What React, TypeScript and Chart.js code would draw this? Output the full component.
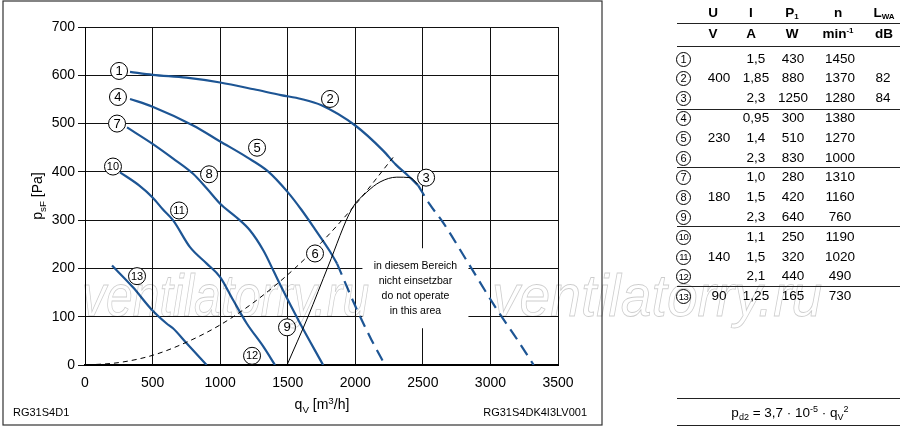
import React, { useEffect, useRef } from "react";
import { Chart, registerables } from "chart.js";
Chart.register(...registerables);

const FONT = "'Liberation Sans', Arial, Helvetica, sans-serif";
const BLUE = "#1d5594";

// ---- curve data (q_V in m³/h, p_sF in Pa) ----
const c123X = [333, 500, 750, 1000, 1250, 1450, 1600, 1750, 2000, 2206, 2300, 2391, 2465];
const c123Y = [607, 601, 595, 585, 571, 559, 551, 538, 496, 444, 415, 392, 372];
const c3dX = [2465, 2550, 2650, 2827, 3050, 3200, 3320];
const c3dY = [372, 333, 295, 215, 114, 52, 0];

const c456X = [333, 500, 800, 1000, 1200, 1350, 1500, 1600, 1700, 1813, 1865];
const c456Y = [551, 535, 496, 463, 430, 402, 358, 322, 282, 235, 210];
const c6dX = [1865, 2013, 2120, 2220];
const c6dY = [210, 114, 52, 0];

const c789X = [311, 500, 650, 800, 900, 1000, 1120, 1220, 1320, 1400, 1450, 1590, 1762];
const c789Y = [492, 458, 428, 396, 366, 334, 306, 279, 237, 192, 163, 87, 0];

const c101112X = [259, 400, 500, 577, 651, 777, 901, 1000, 1097, 1197, 1320, 1406];
const c101112Y = [399, 372, 347, 322, 300, 244, 210, 182, 134, 86, 38, 0];

const c13X = [200, 355, 496, 604, 651, 752, 900];
const c13Y = [206, 161, 114, 86, 76, 45, 0];

const sysX = [15, 250, 500, 750, 1000, 1250, 1500, 1750, 2000, 2280];
const sysY = [0, 5, 20, 47, 83, 130, 187, 254, 332, 430];

const limX = [1495, 1650, 1800, 1974, 2085, 2183, 2307, 2406, 2460];
const limY = [0, 100, 205, 323, 358, 379, 389, 388, 375];

// curve number markers (anchor values)
const markerIds = ["1", "2", "3", "4", "5", "6", "7", "8", "9", "10", "11", "12", "13"];
const markerQ = [252, 1813, 2524, 244, 1273, 1702, 237, 918, 1495, 207, 696, 1236, 385];
const markerP = [609, 551, 388, 555, 450, 231, 500, 395, 78, 411, 320, 19, 184];

const noOpLines = ["in diesem Bereich", "nicht einsetzbar", "do not operate", "in this area"];
const noOpCenter = [2445, 159];

// ---- table data ----
const rowIds = ["1", "2", "3", "4", "5", "6", "7", "8", "9", "10", "11", "12", "13"];
const colU = ["", "400", "", "", "230", "", "", "180", "", "", "140", "", "90"];
const colI = ["1,5", "1,85", "2,3", "0,95", "1,4", "2,3", "1,0", "1,5", "2,3", "1,1", "1,5", "2,1", "1,25"];
const colP = ["430", "880", "1250", "300", "510", "830", "280", "420", "640", "250", "320", "440", "165"];
const colN = ["1450", "1370", "1280", "1380", "1270", "1000", "1310", "1160", "760", "1190", "1020", "490", "730"];
const colL = ["", "82", "84", "", "", "", "", "", "", "", "", "", ""];

const zip = (xs: number[], ys: number[]) => xs.map((x, i) => ({ x, y: ys[i] }));

function circle(ctx: CanvasRenderingContext2D, px: number, py: number, txt: string, r: number) {
  ctx.beginPath();
  ctx.arc(px, py, r, 0, Math.PI * 2);
  ctx.fillStyle = "#fff";
  ctx.fill();
  ctx.lineWidth = 1;
  ctx.strokeStyle = "#000";
  ctx.stroke();
  ctx.fillStyle = "#000";
  ctx.font = (txt.length > 1 ? "11px " : "13px ") + FONT;
  ctx.textAlign = "center";
  ctx.textBaseline = "middle";
  ctx.fillText(txt, px, py + 0.5);
}

function drawSubText(
  ctx: CanvasRenderingContext2D,
  parts: { t: string; k: "n" | "sub" | "sup" }[],
  size: number
) {
  let w = 0;
  const widths = parts.map((p) => {
    ctx.font = (p.k === "n" ? size : size * 0.7) + "px " + FONT;
    return ctx.measureText(p.t).width;
  });
  widths.forEach((x) => (w += x));
  let cx = -w / 2;
  parts.forEach((p, i) => {
    ctx.font = (p.k === "n" ? size : size * 0.7) + "px " + FONT;
    const dy = p.k === "sub" ? size * 0.28 : p.k === "sup" ? -size * 0.38 : 0;
    ctx.fillText(p.t, cx, dy);
    cx += widths[i];
  });
  return w;
}

const overlay = {
  id: "overlay",
  beforeDatasetsDraw(chart: any) {
    const { ctx, scales } = chart;
    const cx = scales.x.getPixelForValue(noOpCenter[0]);
    const cy = scales.y.getPixelForValue(noOpCenter[1]);
    ctx.save();
    ctx.fillStyle = "#fff";
    ctx.fillRect(cx - 53, cy - 40, 106, 80);
    ctx.fillStyle = "#000";
    ctx.font = "10.5px " + FONT;
    ctx.textAlign = "center";
    ctx.textBaseline = "middle";
    noOpLines.forEach((l, i) => ctx.fillText(l, cx, cy - 22.5 + i * 15));
    ctx.restore();
  },
  afterDatasetsDraw(chart: any) {
    const { ctx, scales } = chart;
    ctx.save();
    markerIds.forEach((id, i) => {
      circle(ctx, scales.x.getPixelForValue(markerQ[i]), scales.y.getPixelForValue(markerP[i]), id, 8.5);
    });
    ctx.restore();
  },
  afterDraw(chart: any) {
    const { ctx } = chart;
    ctx.save();
    // frame
    ctx.strokeStyle = "#333";
    ctx.lineWidth = 1.2;
    ctx.strokeRect(3, 1, 599, 424);
    // axis titles
    ctx.fillStyle = "#000";
    ctx.textAlign = "left";
    ctx.textBaseline = "alphabetic";
    ctx.save();
    ctx.translate(322, 409);
    drawSubText(
      ctx,
      [
        { t: "q", k: "n" },
        { t: "V", k: "sub" },
        { t: " [m", k: "n" },
        { t: "3", k: "sup" },
        { t: "/h]", k: "n" },
      ],
      14
    );
    ctx.restore();
    ctx.save();
    ctx.translate(42, 196);
    ctx.rotate(-Math.PI / 2);
    drawSubText(
      ctx,
      [
        { t: "p", k: "n" },
        { t: "sF", k: "sub" },
        { t: " [Pa]", k: "n" },
      ],
      14
    );
    ctx.restore();
    // bottom codes
    ctx.font = "11px " + FONT;
    ctx.textBaseline = "middle";
    ctx.textAlign = "left";
    ctx.fillText("RG31S4D1", 13, 413);
    ctx.textAlign = "right";
    ctx.fillText("RG31S4DK4I3LV001", 587, 413);
    // watermark
    ctx.strokeStyle = "rgba(0,0,0,0.2)";
    ctx.lineWidth = 0.9;
    ctx.textAlign = "left";
    ctx.textBaseline = "alphabetic";
    ctx.font = "italic 60px " + FONT;
    [
      [82, 0.8],
      [492, 0.92],
    ].forEach(([wx, sx]) => {
      ctx.save();
      ctx.translate(wx, 316);
      ctx.scale(sx, 1);
      ctx.strokeText("ventilatorry.ru", 0, 0);
      ctx.restore();
    });
    ctx.restore();
  },
};

function ChartCanvas() {
  const ref = useRef<HTMLCanvasElement>(null);
  useEffect(() => {
    if (!ref.current) return;
    const solid = (xs: number[], ys: number[], color: string, w: number, dash: number[] = []) => ({
      data: zip(xs, ys),
      borderColor: color,
      borderWidth: w,
      borderDash: dash,
      pointRadius: 0,
      fill: false,
      cubicInterpolationMode: "monotone" as const,
    });
    const chart = new Chart(ref.current, {
      type: "line",
      data: {
        datasets: [
          solid(sysX, sysY, "#000", 1, [5, 4]),
          solid(limX, limY, "#000", 1),
          solid(c123X, c123Y, BLUE, 2.2),
          solid(c3dX, c3dY, BLUE, 2.2, [12, 7]),
          solid(c456X, c456Y, BLUE, 2.2),
          solid(c6dX, c6dY, BLUE, 2.2, [12, 7]),
          solid(c789X, c789Y, BLUE, 2.2),
          solid(c101112X, c101112Y, BLUE, 2.2),
          solid(c13X, c13Y, BLUE, 2.2),
        ] as any,
      },
      options: {
        animation: false,
        responsive: false,
        events: [],
        layout: { padding: { left: 0, top: 27, right: 342, bottom: 0 } },
        plugins: { legend: { display: false }, tooltip: { enabled: false } },
        scales: {
          x: {
            type: "linear",
            min: 0,
            max: 3500,
            ticks: {
              stepSize: 500,
              color: "#000",
              font: { family: FONT, size: 14 },
              padding: 10,
              maxRotation: 0,
              callback: (v: any) => String(v),
            },
            grid: { color: "#111", lineWidth: 1, drawTicks: false },
            border: { color: "#000", width: 2 },
            afterFit: (s: any) => {
              s.height = 64;
            },
          },
          y: {
            type: "linear",
            min: 0,
            max: 700,
            ticks: {
              stepSize: 100,
              color: "#000",
              font: { family: FONT, size: 14 },
              padding: 3,
              callback: (v: any) => String(v),
            },
            grid: { color: "#111", lineWidth: 1, tickLength: 7 },
            border: { color: "#000", width: 1 },
            afterFit: (s: any) => {
              s.width = 85;
            },
          },
        },
      },
      plugins: [overlay],
    });
    return () => chart.destroy();
  }, []);
  return <canvas ref={ref} width={900} height={429} style={{ position: "absolute", left: 0, top: 0, width: 900, height: 429 }} />;
}

const T = (props: { x: number; y: number; children: React.ReactNode; bold?: boolean; size?: number }) => (
  <div
    style={{
      position: "absolute",
      left: props.x,
      top: props.y,
      transform: "translate(-50%, -50%)",
      whiteSpace: "nowrap",
      lineHeight: 1,
      fontSize: props.size ?? 13.5,
      fontWeight: props.bold ? 700 : 400,
      fontFamily: FONT,
      color: "#000",
    }}
  >
    {props.children}
  </div>
);

const HLine = ({ y }: { y: number }) => (
  <div style={{ position: "absolute", left: 677, top: y, width: 223, height: 1, background: "#222" }} />
);

const Circ = ({ x, y, id }: { x: number; y: number; id: string }) => (
  <div
    style={{
      position: "absolute",
      left: x - 7,
      top: y - 7,
      width: 13,
      height: 13,
      border: "1px solid #000",
      borderRadius: "50%",
      display: "flex",
      alignItems: "center",
      justifyContent: "center",
      fontFamily: FONT,
      fontSize: id.length > 1 ? 9.5 : 11,
      lineHeight: 1,
      letterSpacing: id.length > 1 ? -0.6 : 0,
    }}
  >
    {id}
  </div>
);

function Table() {
  const rowY = (i: number) => 58.5 + i * 19.8;
  return (
    <>
      <T x={713} y={13} bold>U</T>
      <T x={751} y={13} bold>I</T>
      <T x={792} y={13} bold>
        P<sub style={{ fontSize: 8, verticalAlign: "-2px" }}>1</sub>
      </T>
      <T x={838} y={13} bold>n</T>
      <T x={884} y={13} bold>
        L<sub style={{ fontSize: 8, verticalAlign: "-2px" }}>WA</sub>
      </T>
      <HLine y={23} />
      <T x={713} y={34} bold>V</T>
      <T x={751} y={34} bold>A</T>
      <T x={792} y={34} bold>W</T>
      <T x={838} y={34} bold>
        min<sup style={{ fontSize: 8, verticalAlign: "5px" }}>-1</sup>
      </T>
      <T x={884} y={34} bold>dB</T>
      <HLine y={46} />
      {rowIds.map((id, i) => (
        <React.Fragment key={id}>
          <Circ x={683} y={rowY(i)} id={id} />
          <T x={719} y={rowY(i)}>{colU[i]}</T>
          <T x={756} y={rowY(i)}>{colI[i]}</T>
          <T x={793} y={rowY(i)}>{colP[i]}</T>
          <T x={840} y={rowY(i)}>{colN[i]}</T>
          <T x={883} y={rowY(i)}>{colL[i]}</T>
        </React.Fragment>
      ))}
      <HLine y={109} />
      <HLine y={167} />
      <HLine y={226} />
      <HLine y={286} />
      <HLine y={398} />
      <T x={790} y={413}>
        p<sub style={{ fontSize: 9, verticalAlign: "-3px" }}>d2</sub> = 3,7 · 10
        <sup style={{ fontSize: 9, verticalAlign: "5px" }}>-5</sup> · q
        <sub style={{ fontSize: 9, verticalAlign: "-3px" }}>V</sub>
        <sup style={{ fontSize: 9, verticalAlign: "5px" }}>2</sup>
      </T>
      <HLine y={425} />
    </>
  );
}

export default function App() {
  return (
    <div style={{ position: "absolute", left: 0, top: 0, width: 900, height: 429, background: "#fff", overflow: "hidden" }}>
      <ChartCanvas />
      <Table />
    </div>
  );
}
